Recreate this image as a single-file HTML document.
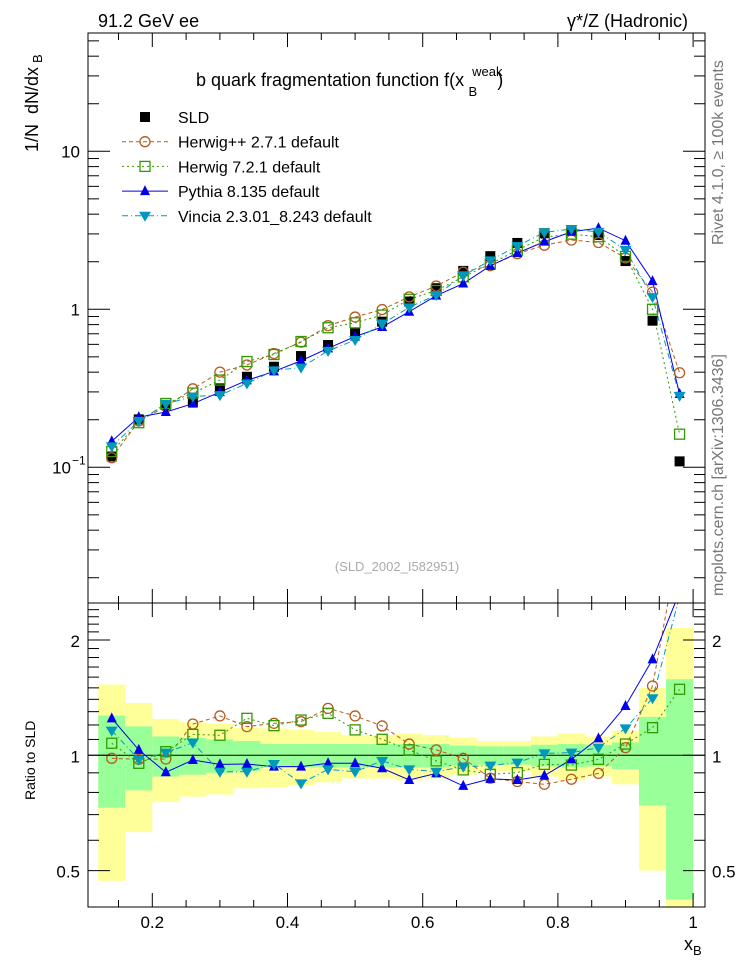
<!DOCTYPE html>
<html><head><meta charset="utf-8">
<style>
html,body{margin:0;padding:0;background:#fff;overflow:hidden;width:746px;height:972px;}
svg{display:block;font-family:"Liberation Sans",sans-serif;}
</style></head>
<body>
<svg id="chart" width="746" height="972" viewBox="0 0 746 972" xmlns="http://www.w3.org/2000/svg">
<g id="bands"></g>
<g id="marks"></g>
<g id="axes"></g>
<text x="98" y="27" font-size="18">91.2 GeV ee</text>
<text x="688" y="27" font-size="18" text-anchor="end">γ*/Z (Hadronic)</text>
<text x="196" y="86" font-size="18">b quark fragmentation function f(x<tspan dx="8" dy="-10" font-size="13">weak</tspan><tspan dx="-34" dy="20" font-size="13">B</tspan><tspan dx="20" dy="-10">)</tspan></text>
<text transform="translate(38,152) rotate(-90)" font-size="18">1/N<tspan dx="10">dN/dx</tspan><tspan dx="4" dy="4" font-size="13">B</tspan></text>
<text transform="translate(35,800) rotate(-90)" font-size="14">Ratio to SLD</text>
<text x="684" y="950" font-size="18">x<tspan dy="5" font-size="13">B</tspan></text>
<text transform="translate(723,245) rotate(-90)" font-size="16" fill="#777">Rivet 4.1.0, ≥ 100k events</text>
<text transform="translate(723,596) rotate(-90)" font-size="16" fill="#777">mcplots.cern.ch [arXiv:1306.3436]</text>
<text x="397" y="571" font-size="13" fill="#aaa" text-anchor="middle">(SLD_2002_I582951)</text>
<g id="legend"></g>
</svg>
<script>
const xs=[0.14,0.18,0.22,0.26,0.30,0.34,0.38,0.42,0.46,0.50,0.54,0.58,0.62,0.66,0.70,0.74,0.78,0.82,0.86,0.90,0.94,0.98];
const sld=[0.117,0.201,0.248,0.260,0.316,0.374,0.433,0.506,0.594,0.705,0.835,1.12,1.36,1.75,2.17,2.63,3.03,3.17,2.95,2.02,0.847,0.109];
const ratioHerwigpp=[0.982,0.976,0.978,1.207,1.267,1.188,1.212,1.224,1.326,1.267,1.193,1.07,1.033,0.982,0.871,0.854,0.84,0.866,0.897,1.047,1.517,3.64];
const ratioHerwig7=[1.075,0.953,1.022,1.134,1.128,1.249,1.195,1.236,1.287,1.165,1.101,1.033,0.967,0.916,0.892,0.901,0.947,0.943,0.976,1.07,1.181,1.487];
const ratioPythia=[1.249,1.033,0.903,0.972,0.947,0.949,0.934,0.934,0.953,0.953,0.925,0.862,0.897,0.832,0.868,0.862,0.885,0.976,1.107,1.345,1.78,2.67];
const ratioVincia=[1.16,0.976,1.016,1.079,0.906,0.906,0.949,0.845,0.919,0.906,0.967,0.919,0.906,0.934,0.94,0.957,1.012,1.016,1.047,1.176,1.409,2.6];
const errTotal=[0.53,0.37,0.245,0.22,0.21,0.18,0.175,0.165,0.15,0.13,0.13,0.14,0.13,0.11,0.09,0.09,0.12,0.14,0.12,0.16,0.5,1.15];
const errStat=[0.27,0.19,0.12,0.11,0.10,0.09,0.07,0.07,0.07,0.07,0.07,0.07,0.07,0.06,0.055,0.055,0.065,0.07,0.065,0.08,0.26,0.58];
const binW=0.04;

const NS="http://www.w3.org/2000/svg";
const L=88,R=705,T=33,MB=603,B=907;
const X=v=>152.3+(v-0.2)*676;
const Y=v=>309.3-158*Math.log10(v);
const YR=v=>755.3-115.3*Math.log2(v);
function el(tag,a,parent){const e=document.createElementNS(NS,tag);for(const k in a)e.setAttribute(k,a[k]);parent.appendChild(e);return e;}
const bands=document.getElementById('bands'),marks=document.getElementById('marks'),axes=document.getElementById('axes'),legend=document.getElementById('legend');

const defs=el('defs',{},document.getElementById('chart'));
const c1=el('clipPath',{id:'cm'},defs);el('rect',{x:L,y:T,width:R-L,height:MB-T},c1);
const c2=el('clipPath',{id:'cr'},defs);el('rect',{x:L,y:MB,width:R-L,height:B-MB},c2);
bands.setAttribute('clip-path','url(#cr)');
const mainG=el('g',{'clip-path':'url(#cm)'},marks);
const ratG=el('g',{'clip-path':'url(#cr)'},marks);

xs.forEach((x,i)=>{
  const x0=X(x-binW/2),x1=X(x+binW/2);
  const lo=Math.max(1-errTotal[i],0.01),hi=1+errTotal[i];
  const y=el('rect',{x:x0,y:YR(hi),width:x1-x0,height:YR(lo)-YR(hi),fill:'#ffff99'},bands);
  
  
  const slo=Math.max(1-errStat[i],0.01),shi=1+errStat[i];
  const g=el('rect',{x:x0,y:YR(shi),width:x1-x0,height:YR(slo)-YR(shi),fill:'#99ff99'},bands);
  
  
});
el('line',{x1:L,x2:R,y1:YR(1),y2:YR(1),stroke:'#000','stroke-width':1},ratG);

function marker(type,cx,cy,color,parent){
  let m;
  if(type==='circle')m=el('circle',{cx,cy,r:5,fill:'none',stroke:color,'stroke-width':1.3},parent);
  else if(type==='square')m=el('rect',{x:cx-5,y:cy-5,width:10,height:10,fill:'none',stroke:color,'stroke-width':1.3},parent);
  else if(type==='up')m=el('polygon',{points:`${cx},${cy-6} ${cx-5},${cy+4} ${cx+5},${cy+4}`,fill:color},parent);
  else if(type==='down')m=el('polygon',{points:`${cx},${cy+6} ${cx-6},${cy-4} ${cx+6},${cy-4}`,fill:color},parent);
  else m=el('rect',{x:cx-5,y:cy-5,width:10,height:10,fill:color},parent);
  return m;
}
const series=[
 {name:'herwigpp',r:ratioHerwigpp,color:'#b35c1e',type:'circle',dash:'4,3'},
 {name:'herwig7',r:ratioHerwig7,color:'#339900',type:'square',dash:'2,3'},
 {name:'pythia',r:ratioPythia,color:'#0000ee',type:'up',dash:''},
 {name:'vincia',r:ratioVincia,color:'#0099bb',type:'down',dash:'6,3,1,3'}
];
series.forEach(s=>{
  const mp=xs.map((x,i)=>X(x)+','+Y(sld[i]*s.r[i])).join(' ');
  const pl=el('polyline',{points:mp,fill:'none',stroke:s.color,'stroke-width':1,'stroke-dasharray':s.dash},mainG);
  
  
  const rp=xs.map((x,i)=>X(x)+','+YR(s.r[i])).join(' ');
  const rl=el('polyline',{points:rp,fill:'none',stroke:s.color,'stroke-width':1,'stroke-dasharray':s.dash},ratG);
  
  
});
xs.forEach((x,i)=>{
  const m=marker('sq',X(x),Y(sld[i]),'#000',mainG);
  
  
});
series.forEach(s=>{
  xs.forEach((x,i)=>{
    const m=marker(s.type,X(x),Y(sld[i]*s.r[i]),s.color,mainG);
    
    
    const r=marker(s.type,X(x),YR(s.r[i]),s.color,ratG);
    
    
  });
});

el('rect',{x:L,y:T,width:R-L,height:MB-T,fill:'none',stroke:'#000','stroke-width':1},axes);
el('rect',{x:L,y:MB,width:R-L,height:B-MB,fill:'none',stroke:'#000','stroke-width':1},axes);
for(let k=3;k<=20;k++){
  const v=k*0.05,px=X(v),major=(k%4===0);
  const len=major?14:7;
  [[T,1],[MB,-1],[MB,1],[B,-1]].forEach(([y0,d])=>el('line',{x1:px,x2:px,y1:y0,y2:y0+d*len,stroke:'#000'},axes));
}
const xTicks=['0.2','0.4','0.6','0.8','1'];
const xTickVals=[0.2,0.4,0.6,0.8,1.0];
xTickVals.forEach((v,i)=>{const t=el('text',{x:X(v),y:928,'font-size':17,'text-anchor':'middle'},axes);t.textContent=xTicks[i];
  });
for(let d=-2;d<=1;d++){for(let m=1;m<=9;m++){const v=m*Math.pow(10,d);const py=Y(v);if(py<T||py>MB)continue;
  const len=m===1?22:11;
  el('line',{x1:L,x2:L+len,y1:py,y2:py,stroke:'#000'},axes);el('line',{x1:R,x2:R-len,y1:py,y2:py,stroke:'#000'},axes);}}
let t;
t=el('text',{x:80,y:Y(10)+6,'font-size':17,'text-anchor':'end'},axes);t.textContent='10';
t=el('text',{x:80,y:Y(1)+6,'font-size':17,'text-anchor':'end'},axes);t.textContent='1';
t=el('text',{x:71,y:Y(0.1)+6,'font-size':17,'text-anchor':'end'},axes);t.textContent='10';
t=el('text',{x:72,y:Y(0.1)-3,'font-size':12},axes);t.textContent='−1';
[0.4,0.5,0.6,0.7,0.8,0.9,1,1.1,1.2,1.3,1.4,1.5,1.6,1.7,1.8,1.9,2,2.1,2.2,2.3,2.4].forEach(v=>{const py=YR(v);if(py<MB||py>B)return;
  const len=(v===0.5||v===1||v===2)?22:11;
  el('line',{x1:L,x2:L+len,y1:py,y2:py,stroke:'#000'},axes);el('line',{x1:R,x2:R-len,y1:py,y2:py,stroke:'#000'},axes);});
[['2',2,80,712],['1',1,80,712],['0.5',0.5,80,712]].forEach(([s,v,xl,xr])=>{
  let a=el('text',{x:xl,y:YR(v)+7,'font-size':17,'text-anchor':'end'},axes);a.textContent=s;
  let b=el('text',{x:xr,y:YR(v)+7,'font-size':17},axes);b.textContent=s;});

const leg=[['SLD','sq','#000',''],['Herwig++ 2.7.1 default','circle','#b35c1e','4,3'],['Herwig 7.2.1 default','square','#339900','2,3'],['Pythia 8.135 default','up','#0000ee',''],['Vincia 2.3.01_8.243 default','down','#0099bb','6,3,1,3']];
leg.forEach((e,i)=>{
  const y=117+i*24.7;
  const g=el('g',{},legend);
  
  
  if(i>0)el('line',{x1:122,x2:168,y1:y,y2:y,stroke:e[2],'stroke-dasharray':e[3]},g);
  marker(e[1],145,y,e[2],g);
  const tx=el('text',{x:178,y:y+6,'font-size':16},g);tx.textContent=e[0];
});
</script>
</body></html>
